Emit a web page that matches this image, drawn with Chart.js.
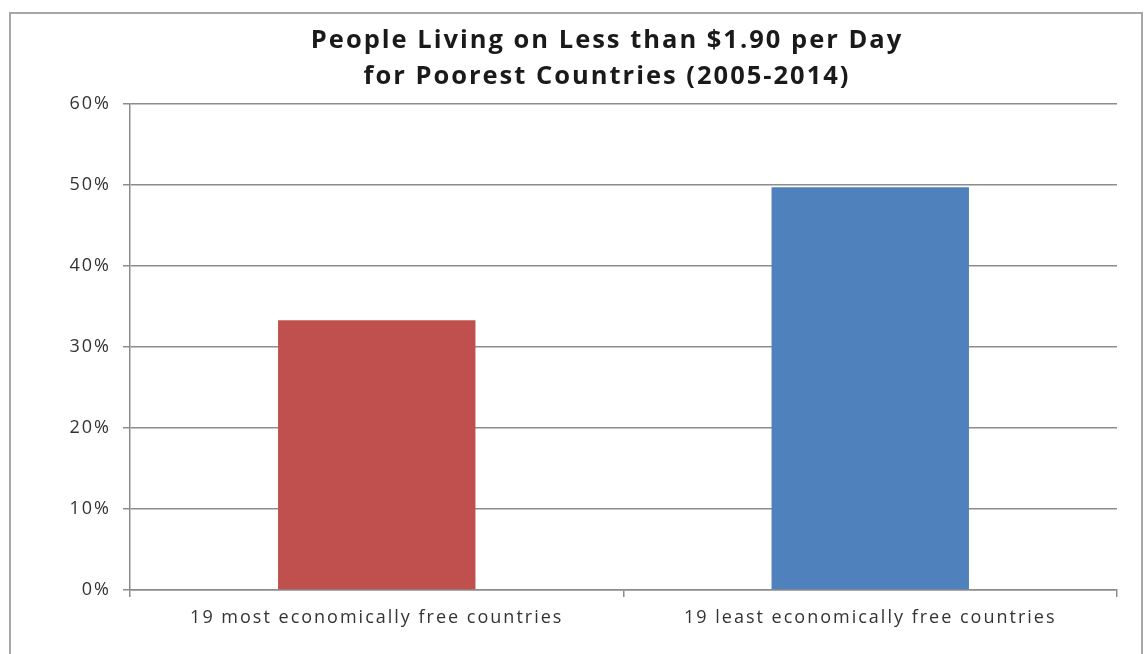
<!DOCTYPE html>
<html>
<head>
<meta charset="utf-8">
<script src="https://cdn.jsdelivr.net/npm/chart.js@4/dist/chart.umd.min.js"></script>
<style>
  html, body { margin: 0; padding: 0; background: #ffffff; }
  #wrap { position: absolute; left: 0; top: 0; width: 1144px; height: 654px; }
</style>
</head>
<body>
<div id="wrap"><canvas id="chart" width="1144" height="654"></canvas></div>
<script>
// Share of population living on less than $1.90/day, 2005-2014
const categories = ['19 most economically free countries', '19 least economically free countries'];
const shareValues = [33.3, 49.7];
const barColors = ['#C0504D', '#4F81BD'];
const titleLines = ['People Living on Less than $1.90 per Day', 'for Poorest Countries (2005-2014)'];
const yTickMax = 60;
const yTickStep = 10;

// White background, thin frame around the whole chart, and slightly
// looser letter spacing for all the text drawn afterwards
const frame = {
  id: 'frame',
  afterLayout(chart) {
    // centre the title a little left of the plot area
    if (chart.titleBlock) chart.titleBlock.left = 97;
  },
  beforeDraw(chart) {
    const c = chart.ctx;
    c.save();
    c.fillStyle = '#ffffff';
    c.fillRect(0, 0, chart.width, chart.height);
    c.strokeStyle = '#a6a6a6';
    c.lineWidth = 2;
    c.strokeRect(10, 13, chart.width - 12, chart.height + 10);
    c.restore();
    if ('letterSpacing' in c) c.letterSpacing = '2px';
  }
};

new Chart(document.getElementById('chart'), {
  type: 'bar',
  data: {
    labels: categories,
    datasets: [{
      data: shareValues,
      backgroundColor: barColors,
      borderWidth: 0,
      barPercentage: 0.4,
      categoryPercentage: 1.0
    }]
  },
  options: {
    responsive: false,
    animation: false,
    devicePixelRatio: 1,
    layout: { padding: { left: 0, right: 27, top: 23, bottom: 0 } },
    plugins: {
      legend: { display: false },
      tooltip: { enabled: false },
      title: {
        display: true,
        text: titleLines,
        color: '#1a1a1a',
        font: { family: 'Open Sans', size: 25.5, weight: 'bold', lineHeight: 1.41 },
        padding: { top: 0, bottom: 9 }
      }
    },
    scales: {
      x: {
        afterFit(scale) { scale.height = 64; },
        grid: { display: true, drawOnChartArea: false, drawTicks: true, tickLength: 7, color: '#8c8c8c', lineWidth: 1.5, offset: true },
        border: { display: true, color: '#8c8c8c', width: 1.5 },
        ticks: { color: '#333333', padding: 10, font: { family: 'Open Sans', size: 18 } }
      },
      y: {
        min: 0,
        max: yTickMax,
        afterFit(scale) { scale.width = 130; },
        grid: { color: '#8c8c8c', lineWidth: 1.5, tickLength: 7 },
        border: { display: true, color: '#8c8c8c', width: 1.5 },
        ticks: {
          stepSize: yTickStep,
          padding: 12,
          color: '#333333',
          font: { family: 'Open Sans', size: 18 },
          callback: v => v + '%'
        }
      }
    }
  },
  plugins: [frame]
});
</script>
</body>
</html>
